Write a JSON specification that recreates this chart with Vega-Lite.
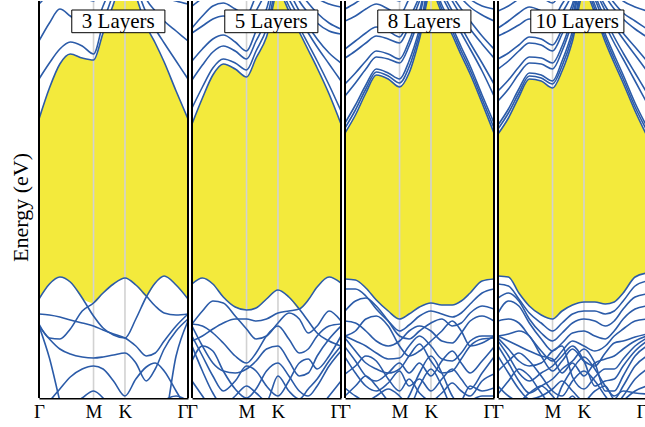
{
"$schema": "https://vega.github.io/schema/vega-lite/v6.json",
"padding": {"left": 9, "top": 0, "right": 0, "bottom": 0},
"background": "white",
"bounds": "flush",
"spacing": 4,
"data": {"values": [
{"p":1,"lab":"3 Layers"},{"p":2,"lab":"5 Layers"},{"p":3,"lab":"8 Layers"},{"p":4,"lab":"10 Layers"},
{"p":1,"b":1,"k":0,"e":-1.18},{"p":1,"b":1,"k":0.07,"e":-0.87},{"p":1,"b":1,"k":0.14,"e":-0.63},{"p":1,"b":1,"k":0.21,"e":-0.53},{"p":1,"b":1,"k":0.29,"e":-0.57},{"p":1,"b":1,"k":0.366,"e":-0.59},{"p":1,"b":1,"k":0.43,"e":-0.32},{"p":1,"b":1,"k":0.5,"e":-0.03},{"p":1,"b":1,"k":0.577,"e":0.3},{"p":1,"b":1,"k":0.65,"e":0.05},{"p":1,"b":1,"k":0.72,"e":-0.25},{"p":1,"b":1,"k":0.78,"e":-0.42},{"p":1,"b":1,"k":0.84,"e":-0.61},{"p":1,"b":1,"k":0.92,"e":-0.9},{"p":1,"b":1,"k":1,"e":-1.18},
{"p":1,"b":2,"k":0,"e":-0.78},{"p":1,"b":2,"k":0.07,"e":-0.62},{"p":1,"b":2,"k":0.14,"e":-0.48},{"p":1,"b":2,"k":0.21,"e":-0.41},{"p":1,"b":2,"k":0.29,"e":-0.45},{"p":1,"b":2,"k":0.366,"e":-0.53},{"p":1,"b":2,"k":0.43,"e":-0.22},{"p":1,"b":2,"k":0.5,"e":0.08},{"p":1,"b":2,"k":0.577,"e":0.4},{"p":1,"b":2,"k":0.65,"e":0.15},{"p":1,"b":2,"k":0.72,"e":-0.12},{"p":1,"b":2,"k":0.78,"e":-0.28},{"p":1,"b":2,"k":0.84,"e":-0.42},{"p":1,"b":2,"k":0.92,"e":-0.6},{"p":1,"b":2,"k":1,"e":-0.78},
{"p":1,"b":3,"k":0,"e":-0.4},{"p":1,"b":3,"k":0.07,"e":-0.22},{"p":1,"b":3,"k":0.14,"e":-0.08},{"p":1,"b":3,"k":0.21,"e":-0.15},{"p":1,"b":3,"k":0.29,"e":-0.24},{"p":1,"b":3,"k":0.366,"e":-0.28},{"p":1,"b":3,"k":0.43,"e":-0.05},{"p":1,"b":3,"k":0.5,"e":0.2},{"p":1,"b":3,"k":0.577,"e":0.5},{"p":1,"b":3,"k":0.65,"e":0.3},{"p":1,"b":3,"k":0.72,"e":0.02},{"p":1,"b":3,"k":0.78,"e":-0.1},{"p":1,"b":3,"k":0.84,"e":-0.2},{"p":1,"b":3,"k":0.92,"e":-0.3},{"p":1,"b":3,"k":1,"e":-0.4},
{"p":1,"b":4,"k":0,"e":-0.03},{"p":1,"b":4,"k":0.07,"e":0.08},{"p":1,"b":4,"k":0.14,"e":0.2},{"p":1,"b":4,"k":0.21,"e":0.15},{"p":1,"b":4,"k":0.29,"e":0.05},{"p":1,"b":4,"k":0.366,"e":0},{"p":1,"b":4,"k":0.43,"e":0.2},{"p":1,"b":4,"k":0.5,"e":0.4},{"p":1,"b":4,"k":0.577,"e":0.6},{"p":1,"b":4,"k":0.65,"e":0.45},{"p":1,"b":4,"k":0.72,"e":0.25},{"p":1,"b":4,"k":0.78,"e":0.12},{"p":1,"b":4,"k":0.84,"e":0.04},{"p":1,"b":4,"k":0.92,"e":0},{"p":1,"b":4,"k":1,"e":-0.03},
{"p":1,"b":101,"k":0,"e":-2.98},{"p":1,"b":101,"k":0.07,"e":-2.83},{"p":1,"b":101,"k":0.14,"e":-2.76},{"p":1,"b":101,"k":0.21,"e":-2.81},{"p":1,"b":101,"k":0.29,"e":-2.97},{"p":1,"b":101,"k":0.366,"e":-3.15},{"p":1,"b":101,"k":0.43,"e":-3.27},{"p":1,"b":101,"k":0.5,"e":-3.34},{"p":1,"b":101,"k":0.577,"e":-3.37},{"p":1,"b":101,"k":0.65,"e":-3.18},{"p":1,"b":101,"k":0.72,"e":-2.96},{"p":1,"b":101,"k":0.78,"e":-2.82},{"p":1,"b":101,"k":0.84,"e":-2.75},{"p":1,"b":101,"k":0.92,"e":-2.84},{"p":1,"b":101,"k":1,"e":-2.98},
{"p":1,"b":102,"k":0,"e":-3.23},{"p":1,"b":102,"k":0.07,"e":-3.37},{"p":1,"b":102,"k":0.14,"e":-3.38},{"p":1,"b":102,"k":0.21,"e":-3.28},{"p":1,"b":102,"k":0.29,"e":-3.1},{"p":1,"b":102,"k":0.366,"e":-3.02},{"p":1,"b":102,"k":0.43,"e":-2.92},{"p":1,"b":102,"k":0.5,"e":-2.83},{"p":1,"b":102,"k":0.577,"e":-2.77},{"p":1,"b":102,"k":0.65,"e":-2.84},{"p":1,"b":102,"k":0.72,"e":-2.95},{"p":1,"b":102,"k":0.78,"e":-3.05},{"p":1,"b":102,"k":0.84,"e":-3.12},{"p":1,"b":102,"k":0.92,"e":-3.14},{"p":1,"b":102,"k":1,"e":-3.13},
{"p":1,"b":103,"k":0,"e":-3.13},{"p":1,"b":103,"k":0.07,"e":-3.14},{"p":1,"b":103,"k":0.14,"e":-3.16},{"p":1,"b":103,"k":0.21,"e":-3.19},{"p":1,"b":103,"k":0.29,"e":-3.22},{"p":1,"b":103,"k":0.366,"e":-3.25},{"p":1,"b":103,"k":0.43,"e":-3.29},{"p":1,"b":103,"k":0.5,"e":-3.33},{"p":1,"b":103,"k":0.577,"e":-3.37},{"p":1,"b":103,"k":0.65,"e":-3.45},{"p":1,"b":103,"k":0.72,"e":-3.55},{"p":1,"b":103,"k":0.78,"e":-3.52},{"p":1,"b":103,"k":0.84,"e":-3.4},{"p":1,"b":103,"k":0.92,"e":-3.25},{"p":1,"b":103,"k":1,"e":-3.13},
{"p":1,"b":104,"k":0,"e":-3.25},{"p":1,"b":104,"k":0.07,"e":-3.38},{"p":1,"b":104,"k":0.14,"e":-3.48},{"p":1,"b":104,"k":0.21,"e":-3.53},{"p":1,"b":104,"k":0.29,"e":-3.56},{"p":1,"b":104,"k":0.366,"e":-3.57},{"p":1,"b":104,"k":0.43,"e":-3.56},{"p":1,"b":104,"k":0.5,"e":-3.54},{"p":1,"b":104,"k":0.577,"e":-3.52},{"p":1,"b":104,"k":0.65,"e":-3.62},{"p":1,"b":104,"k":0.72,"e":-3.8},{"p":1,"b":104,"k":0.78,"e":-3.68},{"p":1,"b":104,"k":0.84,"e":-3.48},{"p":1,"b":104,"k":0.92,"e":-3.3},{"p":1,"b":104,"k":1,"e":-3.18},
{"p":1,"b":105,"k":0,"e":-3.25},{"p":1,"b":105,"k":0.07,"e":-3.57},{"p":1,"b":105,"k":0.14,"e":-4},{"p":1,"b":105,"k":0.21,"e":-4.4},{"p":1,"b":105,"k":0.29,"e":-4.6},{"p":1,"b":105,"k":0.366,"e":-4.7},{"p":1,"b":105,"k":0.43,"e":-4.6},{"p":1,"b":105,"k":0.5,"e":-4.5},{"p":1,"b":105,"k":0.577,"e":-4.4},{"p":1,"b":105,"k":0.65,"e":-4.4},{"p":1,"b":105,"k":0.72,"e":-4.4},{"p":1,"b":105,"k":0.78,"e":-4.3},{"p":1,"b":105,"k":0.84,"e":-4.2},{"p":1,"b":105,"k":0.92,"e":-3.55},{"p":1,"b":105,"k":1,"e":-3.2},
{"p":1,"b":106,"k":0,"e":-4.1},{"p":1,"b":106,"k":0.07,"e":-4},{"p":1,"b":106,"k":0.14,"e":-3.88},{"p":1,"b":106,"k":0.21,"e":-3.76},{"p":1,"b":106,"k":0.29,"e":-3.68},{"p":1,"b":106,"k":0.366,"e":-3.65},{"p":1,"b":106,"k":0.43,"e":-3.68},{"p":1,"b":106,"k":0.5,"e":-3.8},{"p":1,"b":106,"k":0.577,"e":-3.95},{"p":1,"b":106,"k":0.65,"e":-3.78},{"p":1,"b":106,"k":0.72,"e":-3.66},{"p":1,"b":106,"k":0.78,"e":-3.62},{"p":1,"b":106,"k":0.84,"e":-3.7},{"p":1,"b":106,"k":0.92,"e":-3.9},{"p":1,"b":106,"k":1,"e":-4.1},
{"p":1,"b":107,"k":0,"e":-4.3},{"p":1,"b":107,"k":0.07,"e":-4.2},{"p":1,"b":107,"k":0.14,"e":-4.12},{"p":1,"b":107,"k":0.21,"e":-4.05},{"p":1,"b":107,"k":0.29,"e":-3.97},{"p":1,"b":107,"k":0.366,"e":-3.9},{"p":1,"b":107,"k":0.43,"e":-3.97},{"p":1,"b":107,"k":0.5,"e":-4.12},{"p":1,"b":107,"k":0.577,"e":-4.3},{"p":1,"b":107,"k":0.65,"e":-4.4},{"p":1,"b":107,"k":0.72,"e":-4.3},{"p":1,"b":107,"k":0.78,"e":-4.15},{"p":1,"b":107,"k":0.84,"e":-4},{"p":1,"b":107,"k":0.92,"e":-3.95},{"p":1,"b":107,"k":1,"e":-4},
{"p":2,"b":1,"k":0,"e":-1.23},{"p":2,"b":1,"k":0.07,"e":-0.97},{"p":2,"b":1,"k":0.14,"e":-0.74},{"p":2,"b":1,"k":0.21,"e":-0.63},{"p":2,"b":1,"k":0.29,"e":-0.68},{"p":2,"b":1,"k":0.366,"e":-0.76},{"p":2,"b":1,"k":0.43,"e":-0.57},{"p":2,"b":1,"k":0.5,"e":-0.36},{"p":2,"b":1,"k":0.577,"e":0.1},{"p":2,"b":1,"k":0.65,"e":-0.1},{"p":2,"b":1,"k":0.72,"e":-0.31},{"p":2,"b":1,"k":0.78,"e":-0.49},{"p":2,"b":1,"k":0.84,"e":-0.67},{"p":2,"b":1,"k":0.92,"e":-0.93},{"p":2,"b":1,"k":1,"e":-1.23},
{"p":2,"b":2,"k":0,"e":-1.07},{"p":2,"b":2,"k":0.07,"e":-0.86},{"p":2,"b":2,"k":0.14,"e":-0.67},{"p":2,"b":2,"k":0.21,"e":-0.58},{"p":2,"b":2,"k":0.29,"e":-0.62},{"p":2,"b":2,"k":0.366,"e":-0.69},{"p":2,"b":2,"k":0.43,"e":-0.5},{"p":2,"b":2,"k":0.5,"e":-0.28},{"p":2,"b":2,"k":0.577,"e":0.15},{"p":2,"b":2,"k":0.65,"e":-0.05},{"p":2,"b":2,"k":0.72,"e":-0.26},{"p":2,"b":2,"k":0.78,"e":-0.43},{"p":2,"b":2,"k":0.84,"e":-0.6},{"p":2,"b":2,"k":0.92,"e":-0.84},{"p":2,"b":2,"k":1,"e":-1.1},
{"p":2,"b":3,"k":0,"e":-0.79},{"p":2,"b":3,"k":0.07,"e":-0.64},{"p":2,"b":3,"k":0.14,"e":-0.51},{"p":2,"b":3,"k":0.21,"e":-0.45},{"p":2,"b":3,"k":0.29,"e":-0.5},{"p":2,"b":3,"k":0.366,"e":-0.58},{"p":2,"b":3,"k":0.43,"e":-0.4},{"p":2,"b":3,"k":0.5,"e":-0.18},{"p":2,"b":3,"k":0.577,"e":0.22},{"p":2,"b":3,"k":0.65,"e":0.02},{"p":2,"b":3,"k":0.72,"e":-0.17},{"p":2,"b":3,"k":0.78,"e":-0.32},{"p":2,"b":3,"k":0.84,"e":-0.46},{"p":2,"b":3,"k":0.92,"e":-0.63},{"p":2,"b":3,"k":1,"e":-0.8},
{"p":2,"b":4,"k":0,"e":-0.6},{"p":2,"b":4,"k":0.07,"e":-0.48},{"p":2,"b":4,"k":0.14,"e":-0.38},{"p":2,"b":4,"k":0.21,"e":-0.34},{"p":2,"b":4,"k":0.29,"e":-0.41},{"p":2,"b":4,"k":0.366,"e":-0.5},{"p":2,"b":4,"k":0.43,"e":-0.3},{"p":2,"b":4,"k":0.5,"e":-0.08},{"p":2,"b":4,"k":0.577,"e":0.3},{"p":2,"b":4,"k":0.65,"e":0.1},{"p":2,"b":4,"k":0.72,"e":-0.1},{"p":2,"b":4,"k":0.78,"e":-0.25},{"p":2,"b":4,"k":0.84,"e":-0.38},{"p":2,"b":4,"k":0.92,"e":-0.52},{"p":2,"b":4,"k":1,"e":-0.62},
{"p":2,"b":5,"k":0,"e":-0.32},{"p":2,"b":5,"k":0.07,"e":-0.25},{"p":2,"b":5,"k":0.14,"e":-0.18},{"p":2,"b":5,"k":0.21,"e":-0.15},{"p":2,"b":5,"k":0.29,"e":-0.22},{"p":2,"b":5,"k":0.366,"e":-0.3},{"p":2,"b":5,"k":0.43,"e":-0.1},{"p":2,"b":5,"k":0.5,"e":0.1},{"p":2,"b":5,"k":0.577,"e":0.4},{"p":2,"b":5,"k":0.65,"e":0.2},{"p":2,"b":5,"k":0.72,"e":0},{"p":2,"b":5,"k":0.78,"e":-0.12},{"p":2,"b":5,"k":0.84,"e":-0.22},{"p":2,"b":5,"k":0.92,"e":-0.3},{"p":2,"b":5,"k":1,"e":-0.33},
{"p":2,"b":6,"k":0,"e":-0.27},{"p":2,"b":6,"k":0.07,"e":-0.15},{"p":2,"b":6,"k":0.14,"e":-0.05},{"p":2,"b":6,"k":0.21,"e":-0.02},{"p":2,"b":6,"k":0.29,"e":-0.08},{"p":2,"b":6,"k":0.366,"e":-0.14},{"p":2,"b":6,"k":0.43,"e":0.05},{"p":2,"b":6,"k":0.5,"e":0.2},{"p":2,"b":6,"k":0.577,"e":0.5},{"p":2,"b":6,"k":0.65,"e":0.3},{"p":2,"b":6,"k":0.72,"e":0.1},{"p":2,"b":6,"k":0.78,"e":-0.02},{"p":2,"b":6,"k":0.84,"e":-0.12},{"p":2,"b":6,"k":0.92,"e":-0.22},{"p":2,"b":6,"k":1,"e":-0.28},
{"p":2,"b":7,"k":0,"e":-0.05},{"p":2,"b":7,"k":0.07,"e":0.03},{"p":2,"b":7,"k":0.14,"e":0.12},{"p":2,"b":7,"k":0.21,"e":0.15},{"p":2,"b":7,"k":0.29,"e":0.08},{"p":2,"b":7,"k":0.366,"e":0.03},{"p":2,"b":7,"k":0.43,"e":0.2},{"p":2,"b":7,"k":0.5,"e":0.4},{"p":2,"b":7,"k":0.577,"e":0.6},{"p":2,"b":7,"k":0.65,"e":0.45},{"p":2,"b":7,"k":0.72,"e":0.25},{"p":2,"b":7,"k":0.78,"e":0.12},{"p":2,"b":7,"k":0.84,"e":0.03},{"p":2,"b":7,"k":0.92,"e":-0.03},{"p":2,"b":7,"k":1,"e":-0.06},
{"p":2,"b":101,"k":0,"e":-2.83},{"p":2,"b":101,"k":0.07,"e":-2.77},{"p":2,"b":101,"k":0.14,"e":-2.83},{"p":2,"b":101,"k":0.21,"e":-2.96},{"p":2,"b":101,"k":0.29,"e":-3.06},{"p":2,"b":101,"k":0.366,"e":-3.09},{"p":2,"b":101,"k":0.43,"e":-3.07},{"p":2,"b":101,"k":0.5,"e":-2.98},{"p":2,"b":101,"k":0.577,"e":-2.89},{"p":2,"b":101,"k":0.65,"e":-2.96},{"p":2,"b":101,"k":0.72,"e":-3.08},{"p":2,"b":101,"k":0.78,"e":-3.2},{"p":2,"b":101,"k":0.84,"e":-3.32},{"p":2,"b":101,"k":0.92,"e":-3.4},{"p":2,"b":101,"k":1,"e":-3.45},
{"p":2,"b":102,"k":0,"e":-3.4},{"p":2,"b":102,"k":0.07,"e":-3.35},{"p":2,"b":102,"k":0.14,"e":-3.28},{"p":2,"b":102,"k":0.21,"e":-3.22},{"p":2,"b":102,"k":0.29,"e":-3.18},{"p":2,"b":102,"k":0.366,"e":-3.18},{"p":2,"b":102,"k":0.43,"e":-3.2},{"p":2,"b":102,"k":0.5,"e":-3.18},{"p":2,"b":102,"k":0.577,"e":-3.12},{"p":2,"b":102,"k":0.65,"e":-3.1},{"p":2,"b":102,"k":0.72,"e":-3.08},{"p":2,"b":102,"k":0.78,"e":-2.99},{"p":2,"b":102,"k":0.84,"e":-2.86},{"p":2,"b":102,"k":0.92,"e":-2.76},{"p":2,"b":102,"k":1,"e":-2.82},
{"p":2,"b":103,"k":0,"e":-3.23},{"p":2,"b":103,"k":0.07,"e":-3.1},{"p":2,"b":103,"k":0.14,"e":-3},{"p":2,"b":103,"k":0.21,"e":-3.02},{"p":2,"b":103,"k":0.29,"e":-3.15},{"p":2,"b":103,"k":0.366,"e":-3.28},{"p":2,"b":103,"k":0.43,"e":-3.38},{"p":2,"b":103,"k":0.5,"e":-3.35},{"p":2,"b":103,"k":0.577,"e":-3.22},{"p":2,"b":103,"k":0.65,"e":-3.12},{"p":2,"b":103,"k":0.72,"e":-3.18},{"p":2,"b":103,"k":0.78,"e":-3.32},{"p":2,"b":103,"k":0.84,"e":-3.25},{"p":2,"b":103,"k":0.92,"e":-3.1},{"p":2,"b":103,"k":1,"e":-3.2},
{"p":2,"b":104,"k":0,"e":-3.23},{"p":2,"b":104,"k":0.07,"e":-3.25},{"p":2,"b":104,"k":0.14,"e":-3.32},{"p":2,"b":104,"k":0.21,"e":-3.42},{"p":2,"b":104,"k":0.29,"e":-3.55},{"p":2,"b":104,"k":0.366,"e":-3.62},{"p":2,"b":104,"k":0.43,"e":-3.52},{"p":2,"b":104,"k":0.5,"e":-3.35},{"p":2,"b":104,"k":0.577,"e":-3.25},{"p":2,"b":104,"k":0.65,"e":-3.38},{"p":2,"b":104,"k":0.72,"e":-3.52},{"p":2,"b":104,"k":0.78,"e":-3.48},{"p":2,"b":104,"k":0.84,"e":-3.35},{"p":2,"b":104,"k":0.92,"e":-3.25},{"p":2,"b":104,"k":1,"e":-3.23},
{"p":2,"b":105,"k":0,"e":-3.25},{"p":2,"b":105,"k":0.07,"e":-3.45},{"p":2,"b":105,"k":0.14,"e":-3.62},{"p":2,"b":105,"k":0.21,"e":-3.7},{"p":2,"b":105,"k":0.29,"e":-3.72},{"p":2,"b":105,"k":0.366,"e":-3.68},{"p":2,"b":105,"k":0.43,"e":-3.6},{"p":2,"b":105,"k":0.5,"e":-3.48},{"p":2,"b":105,"k":0.577,"e":-3.45},{"p":2,"b":105,"k":0.65,"e":-3.6},{"p":2,"b":105,"k":0.72,"e":-3.75},{"p":2,"b":105,"k":0.78,"e":-3.72},{"p":2,"b":105,"k":0.84,"e":-3.55},{"p":2,"b":105,"k":0.92,"e":-3.38},{"p":2,"b":105,"k":1,"e":-3.25},
{"p":2,"b":106,"k":0,"e":-3.35},{"p":2,"b":106,"k":0.07,"e":-3.55},{"p":2,"b":106,"k":0.14,"e":-3.75},{"p":2,"b":106,"k":0.21,"e":-3.9},{"p":2,"b":106,"k":0.29,"e":-3.8},{"p":2,"b":106,"k":0.366,"e":-3.65},{"p":2,"b":106,"k":0.43,"e":-3.7},{"p":2,"b":106,"k":0.5,"e":-3.85},{"p":2,"b":106,"k":0.577,"e":-3.95},{"p":2,"b":106,"k":0.65,"e":-3.8},{"p":2,"b":106,"k":0.72,"e":-3.62},{"p":2,"b":106,"k":0.78,"e":-3.58},{"p":2,"b":106,"k":0.84,"e":-3.68},{"p":2,"b":106,"k":0.92,"e":-3.55},{"p":2,"b":106,"k":1,"e":-3.35},
{"p":2,"b":107,"k":0,"e":-3.45},{"p":2,"b":107,"k":0.07,"e":-3.7},{"p":2,"b":107,"k":0.14,"e":-3.92},{"p":2,"b":107,"k":0.21,"e":-4.05},{"p":2,"b":107,"k":0.29,"e":-3.95},{"p":2,"b":107,"k":0.366,"e":-3.85},{"p":2,"b":107,"k":0.43,"e":-3.92},{"p":2,"b":107,"k":0.5,"e":-4},{"p":2,"b":107,"k":0.577,"e":-3.75},{"p":2,"b":107,"k":0.65,"e":-3.9},{"p":2,"b":107,"k":0.72,"e":-3.98},{"p":2,"b":107,"k":0.78,"e":-3.88},{"p":2,"b":107,"k":0.84,"e":-3.78},{"p":2,"b":107,"k":0.92,"e":-3.6},{"p":2,"b":107,"k":1,"e":-3.45},
{"p":2,"b":108,"k":0,"e":-3.6},{"p":2,"b":108,"k":0.07,"e":-3.45},{"p":2,"b":108,"k":0.14,"e":-3.5},{"p":2,"b":108,"k":0.21,"e":-3.7},{"p":2,"b":108,"k":0.29,"e":-3.88},{"p":2,"b":108,"k":0.366,"e":-3.97},{"p":2,"b":108,"k":0.43,"e":-3.88},{"p":2,"b":108,"k":0.5,"e":-3.7},{"p":2,"b":108,"k":0.577,"e":-3.62},{"p":2,"b":108,"k":0.65,"e":-3.75},{"p":2,"b":108,"k":0.72,"e":-3.9},{"p":2,"b":108,"k":0.78,"e":-3.95},{"p":2,"b":108,"k":0.84,"e":-3.85},{"p":2,"b":108,"k":0.92,"e":-3.65},{"p":2,"b":108,"k":1,"e":-3.5},
{"p":2,"b":109,"k":0,"e":-3.8},{"p":2,"b":109,"k":0.07,"e":-3.95},{"p":2,"b":109,"k":0.14,"e":-4.1},{"p":2,"b":109,"k":0.21,"e":-4.2},{"p":2,"b":109,"k":0.29,"e":-4.1},{"p":2,"b":109,"k":0.366,"e":-4},{"p":2,"b":109,"k":0.43,"e":-4.1},{"p":2,"b":109,"k":0.5,"e":-4.2},{"p":2,"b":109,"k":0.577,"e":-4.1},{"p":2,"b":109,"k":0.65,"e":-4},{"p":2,"b":109,"k":0.72,"e":-4.12},{"p":2,"b":109,"k":0.78,"e":-4.2},{"p":2,"b":109,"k":0.84,"e":-4.1},{"p":2,"b":109,"k":0.92,"e":-3.95},{"p":2,"b":109,"k":1,"e":-3.8},
{"p":3,"b":1,"k":0,"e":-1.32},{"p":3,"b":1,"k":0.07,"e":-1.14},{"p":3,"b":1,"k":0.14,"e":-0.92},{"p":3,"b":1,"k":0.21,"e":-0.74},{"p":3,"b":1,"k":0.29,"e":-0.78},{"p":3,"b":1,"k":0.366,"e":-0.86},{"p":3,"b":1,"k":0.43,"e":-0.72},{"p":3,"b":1,"k":0.5,"e":-0.38},{"p":3,"b":1,"k":0.577,"e":0.1},{"p":3,"b":1,"k":0.65,"e":-0.12},{"p":3,"b":1,"k":0.72,"e":-0.34},{"p":3,"b":1,"k":0.78,"e":-0.54},{"p":3,"b":1,"k":0.84,"e":-0.73},{"p":3,"b":1,"k":0.92,"e":-1.02},{"p":3,"b":1,"k":1,"e":-1.32},
{"p":3,"b":2,"k":0,"e":-1.27},{"p":3,"b":2,"k":0.07,"e":-1.09},{"p":3,"b":2,"k":0.14,"e":-0.88},{"p":3,"b":2,"k":0.21,"e":-0.71},{"p":3,"b":2,"k":0.29,"e":-0.75},{"p":3,"b":2,"k":0.366,"e":-0.82},{"p":3,"b":2,"k":0.43,"e":-0.66},{"p":3,"b":2,"k":0.5,"e":-0.33},{"p":3,"b":2,"k":0.577,"e":0.15},{"p":3,"b":2,"k":0.65,"e":-0.08},{"p":3,"b":2,"k":0.72,"e":-0.3},{"p":3,"b":2,"k":0.78,"e":-0.5},{"p":3,"b":2,"k":0.84,"e":-0.69},{"p":3,"b":2,"k":0.92,"e":-0.98},{"p":3,"b":2,"k":1,"e":-1.27},
{"p":3,"b":3,"k":0,"e":-1.22},{"p":3,"b":3,"k":0.07,"e":-1.04},{"p":3,"b":3,"k":0.14,"e":-0.84},{"p":3,"b":3,"k":0.21,"e":-0.68},{"p":3,"b":3,"k":0.29,"e":-0.72},{"p":3,"b":3,"k":0.366,"e":-0.78},{"p":3,"b":3,"k":0.43,"e":-0.6},{"p":3,"b":3,"k":0.5,"e":-0.28},{"p":3,"b":3,"k":0.577,"e":0.2},{"p":3,"b":3,"k":0.65,"e":-0.04},{"p":3,"b":3,"k":0.72,"e":-0.26},{"p":3,"b":3,"k":0.78,"e":-0.46},{"p":3,"b":3,"k":0.84,"e":-0.65},{"p":3,"b":3,"k":0.92,"e":-0.94},{"p":3,"b":3,"k":1,"e":-1.22},
{"p":3,"b":4,"k":0,"e":-0.95},{"p":3,"b":4,"k":0.07,"e":-0.82},{"p":3,"b":4,"k":0.14,"e":-0.68},{"p":3,"b":4,"k":0.21,"e":-0.56},{"p":3,"b":4,"k":0.29,"e":-0.58},{"p":3,"b":4,"k":0.366,"e":-0.62},{"p":3,"b":4,"k":0.43,"e":-0.45},{"p":3,"b":4,"k":0.5,"e":-0.15},{"p":3,"b":4,"k":0.577,"e":0.28},{"p":3,"b":4,"k":0.65,"e":0.05},{"p":3,"b":4,"k":0.72,"e":-0.15},{"p":3,"b":4,"k":0.78,"e":-0.32},{"p":3,"b":4,"k":0.84,"e":-0.48},{"p":3,"b":4,"k":0.92,"e":-0.7},{"p":3,"b":4,"k":1,"e":-0.95},
{"p":3,"b":5,"k":0,"e":-0.83},{"p":3,"b":5,"k":0.07,"e":-0.72},{"p":3,"b":5,"k":0.14,"e":-0.6},{"p":3,"b":5,"k":0.21,"e":-0.5},{"p":3,"b":5,"k":0.29,"e":-0.53},{"p":3,"b":5,"k":0.366,"e":-0.58},{"p":3,"b":5,"k":0.43,"e":-0.4},{"p":3,"b":5,"k":0.5,"e":-0.1},{"p":3,"b":5,"k":0.577,"e":0.32},{"p":3,"b":5,"k":0.65,"e":0.1},{"p":3,"b":5,"k":0.72,"e":-0.1},{"p":3,"b":5,"k":0.78,"e":-0.26},{"p":3,"b":5,"k":0.84,"e":-0.42},{"p":3,"b":5,"k":0.92,"e":-0.62},{"p":3,"b":5,"k":1,"e":-0.83},
{"p":3,"b":6,"k":0,"e":-0.57},{"p":3,"b":6,"k":0.07,"e":-0.5},{"p":3,"b":6,"k":0.14,"e":-0.42},{"p":3,"b":6,"k":0.21,"e":-0.35},{"p":3,"b":6,"k":0.29,"e":-0.38},{"p":3,"b":6,"k":0.366,"e":-0.42},{"p":3,"b":6,"k":0.43,"e":-0.25},{"p":3,"b":6,"k":0.5,"e":0},{"p":3,"b":6,"k":0.577,"e":0.38},{"p":3,"b":6,"k":0.65,"e":0.18},{"p":3,"b":6,"k":0.72,"e":0},{"p":3,"b":6,"k":0.78,"e":-0.15},{"p":3,"b":6,"k":0.84,"e":-0.28},{"p":3,"b":6,"k":0.92,"e":-0.43},{"p":3,"b":6,"k":1,"e":-0.57},
{"p":3,"b":7,"k":0,"e":-0.48},{"p":3,"b":7,"k":0.07,"e":-0.4},{"p":3,"b":7,"k":0.14,"e":-0.32},{"p":3,"b":7,"k":0.21,"e":-0.26},{"p":3,"b":7,"k":0.29,"e":-0.3},{"p":3,"b":7,"k":0.366,"e":-0.36},{"p":3,"b":7,"k":0.43,"e":-0.18},{"p":3,"b":7,"k":0.5,"e":0.05},{"p":3,"b":7,"k":0.577,"e":0.42},{"p":3,"b":7,"k":0.65,"e":0.22},{"p":3,"b":7,"k":0.72,"e":0.05},{"p":3,"b":7,"k":0.78,"e":-0.08},{"p":3,"b":7,"k":0.84,"e":-0.2},{"p":3,"b":7,"k":0.92,"e":-0.35},{"p":3,"b":7,"k":1,"e":-0.48},
{"p":3,"b":8,"k":0,"e":-0.2},{"p":3,"b":8,"k":0.07,"e":-0.15},{"p":3,"b":8,"k":0.14,"e":-0.08},{"p":3,"b":8,"k":0.21,"e":-0.03},{"p":3,"b":8,"k":0.29,"e":-0.08},{"p":3,"b":8,"k":0.366,"e":-0.14},{"p":3,"b":8,"k":0.43,"e":0.02},{"p":3,"b":8,"k":0.5,"e":0.2},{"p":3,"b":8,"k":0.577,"e":0.5},{"p":3,"b":8,"k":0.65,"e":0.32},{"p":3,"b":8,"k":0.72,"e":0.15},{"p":3,"b":8,"k":0.78,"e":0.03},{"p":3,"b":8,"k":0.84,"e":-0.06},{"p":3,"b":8,"k":0.92,"e":-0.14},{"p":3,"b":8,"k":1,"e":-0.2},
{"p":3,"b":9,"k":0,"e":-0.08},{"p":3,"b":9,"k":0.07,"e":-0.02},{"p":3,"b":9,"k":0.14,"e":0.05},{"p":3,"b":9,"k":0.21,"e":0.1},{"p":3,"b":9,"k":0.29,"e":0.05},{"p":3,"b":9,"k":0.366,"e":0},{"p":3,"b":9,"k":0.43,"e":0.15},{"p":3,"b":9,"k":0.5,"e":0.3},{"p":3,"b":9,"k":0.577,"e":0.6},{"p":3,"b":9,"k":0.65,"e":0.42},{"p":3,"b":9,"k":0.72,"e":0.25},{"p":3,"b":9,"k":0.78,"e":0.12},{"p":3,"b":9,"k":0.84,"e":0.02},{"p":3,"b":9,"k":0.92,"e":-0.05},{"p":3,"b":9,"k":1,"e":-0.08},
{"p":3,"b":101,"k":0,"e":-2.78},{"p":3,"b":101,"k":0.07,"e":-2.79},{"p":3,"b":101,"k":0.14,"e":-2.87},{"p":3,"b":101,"k":0.21,"e":-2.99},{"p":3,"b":101,"k":0.29,"e":-3.1},{"p":3,"b":101,"k":0.366,"e":-3.18},{"p":3,"b":101,"k":0.43,"e":-3.13},{"p":3,"b":101,"k":0.5,"e":-3.06},{"p":3,"b":101,"k":0.577,"e":-3.02},{"p":3,"b":101,"k":0.65,"e":-3.04},{"p":3,"b":101,"k":0.72,"e":-3.04},{"p":3,"b":101,"k":0.78,"e":-3},{"p":3,"b":101,"k":0.84,"e":-2.92},{"p":3,"b":101,"k":0.92,"e":-2.8},{"p":3,"b":101,"k":1,"e":-2.78},
{"p":3,"b":102,"k":0,"e":-2.88},{"p":3,"b":102,"k":0.07,"e":-2.88},{"p":3,"b":102,"k":0.14,"e":-2.95},{"p":3,"b":102,"k":0.21,"e":-3.08},{"p":3,"b":102,"k":0.29,"e":-3.2},{"p":3,"b":102,"k":0.366,"e":-3.3},{"p":3,"b":102,"k":0.43,"e":-3.24},{"p":3,"b":102,"k":0.5,"e":-3.15},{"p":3,"b":102,"k":0.577,"e":-3.1},{"p":3,"b":102,"k":0.65,"e":-3.13},{"p":3,"b":102,"k":0.72,"e":-3.16},{"p":3,"b":102,"k":0.78,"e":-3.12},{"p":3,"b":102,"k":0.84,"e":-3.03},{"p":3,"b":102,"k":0.92,"e":-2.92},{"p":3,"b":102,"k":1,"e":-2.88},
{"p":3,"b":103,"k":0,"e":-3.1},{"p":3,"b":103,"k":0.07,"e":-3},{"p":3,"b":103,"k":0.14,"e":-2.97},{"p":3,"b":103,"k":0.21,"e":-3.05},{"p":3,"b":103,"k":0.29,"e":-3.2},{"p":3,"b":103,"k":0.366,"e":-3.35},{"p":3,"b":103,"k":0.43,"e":-3.38},{"p":3,"b":103,"k":0.5,"e":-3.3},{"p":3,"b":103,"k":0.577,"e":-3.22},{"p":3,"b":103,"k":0.65,"e":-3.18},{"p":3,"b":103,"k":0.72,"e":-3.25},{"p":3,"b":103,"k":0.78,"e":-3.22},{"p":3,"b":103,"k":0.84,"e":-3.12},{"p":3,"b":103,"k":0.92,"e":-3.05},{"p":3,"b":103,"k":1,"e":-3.08},
{"p":3,"b":104,"k":0,"e":-3.2},{"p":3,"b":104,"k":0.07,"e":-3.22},{"p":3,"b":104,"k":0.14,"e":-3.3},{"p":3,"b":104,"k":0.21,"e":-3.4},{"p":3,"b":104,"k":0.29,"e":-3.45},{"p":3,"b":104,"k":0.366,"e":-3.4},{"p":3,"b":104,"k":0.43,"e":-3.3},{"p":3,"b":104,"k":0.5,"e":-3.25},{"p":3,"b":104,"k":0.577,"e":-3.3},{"p":3,"b":104,"k":0.65,"e":-3.4},{"p":3,"b":104,"k":0.72,"e":-3.42},{"p":3,"b":104,"k":0.78,"e":-3.32},{"p":3,"b":104,"k":0.84,"e":-3.2},{"p":3,"b":104,"k":0.92,"e":-3.15},{"p":3,"b":104,"k":1,"e":-3.2},
{"p":3,"b":105,"k":0,"e":-3.35},{"p":3,"b":105,"k":0.07,"e":-3.3},{"p":3,"b":105,"k":0.14,"e":-3.18},{"p":3,"b":105,"k":0.21,"e":-3.15},{"p":3,"b":105,"k":0.29,"e":-3.25},{"p":3,"b":105,"k":0.366,"e":-3.45},{"p":3,"b":105,"k":0.43,"e":-3.55},{"p":3,"b":105,"k":0.5,"e":-3.5},{"p":3,"b":105,"k":0.577,"e":-3.4},{"p":3,"b":105,"k":0.65,"e":-3.3},{"p":3,"b":105,"k":0.72,"e":-3.2},{"p":3,"b":105,"k":0.78,"e":-3.3},{"p":3,"b":105,"k":0.84,"e":-3.45},{"p":3,"b":105,"k":0.92,"e":-3.42},{"p":3,"b":105,"k":1,"e":-3.35},
{"p":3,"b":106,"k":0,"e":-3.35},{"p":3,"b":106,"k":0.07,"e":-3.4},{"p":3,"b":106,"k":0.14,"e":-3.45},{"p":3,"b":106,"k":0.21,"e":-3.52},{"p":3,"b":106,"k":0.29,"e":-3.58},{"p":3,"b":106,"k":0.366,"e":-3.57},{"p":3,"b":106,"k":0.43,"e":-3.45},{"p":3,"b":106,"k":0.5,"e":-3.35},{"p":3,"b":106,"k":0.577,"e":-3.45},{"p":3,"b":106,"k":0.65,"e":-3.58},{"p":3,"b":106,"k":0.72,"e":-3.6},{"p":3,"b":106,"k":0.78,"e":-3.52},{"p":3,"b":106,"k":0.84,"e":-3.4},{"p":3,"b":106,"k":0.92,"e":-3.35},{"p":3,"b":106,"k":1,"e":-3.35},
{"p":3,"b":107,"k":0,"e":-3.37},{"p":3,"b":107,"k":0.07,"e":-3.5},{"p":3,"b":107,"k":0.14,"e":-3.62},{"p":3,"b":107,"k":0.21,"e":-3.68},{"p":3,"b":107,"k":0.29,"e":-3.72},{"p":3,"b":107,"k":0.366,"e":-3.68},{"p":3,"b":107,"k":0.43,"e":-3.55},{"p":3,"b":107,"k":0.5,"e":-3.43},{"p":3,"b":107,"k":0.577,"e":-3.6},{"p":3,"b":107,"k":0.65,"e":-3.72},{"p":3,"b":107,"k":0.72,"e":-3.7},{"p":3,"b":107,"k":0.78,"e":-3.58},{"p":3,"b":107,"k":0.84,"e":-3.45},{"p":3,"b":107,"k":0.92,"e":-3.38},{"p":3,"b":107,"k":1,"e":-3.37},
{"p":3,"b":108,"k":0,"e":-3.46},{"p":3,"b":108,"k":0.07,"e":-3.6},{"p":3,"b":108,"k":0.14,"e":-3.75},{"p":3,"b":108,"k":0.21,"e":-3.8},{"p":3,"b":108,"k":0.29,"e":-3.72},{"p":3,"b":108,"k":0.366,"e":-3.62},{"p":3,"b":108,"k":0.43,"e":-3.72},{"p":3,"b":108,"k":0.5,"e":-3.62},{"p":3,"b":108,"k":0.577,"e":-3.75},{"p":3,"b":108,"k":0.65,"e":-3.6},{"p":3,"b":108,"k":0.72,"e":-3.5},{"p":3,"b":108,"k":0.78,"e":-3.62},{"p":3,"b":108,"k":0.84,"e":-3.72},{"p":3,"b":108,"k":0.92,"e":-3.6},{"p":3,"b":108,"k":1,"e":-3.46},
{"p":3,"b":109,"k":0,"e":-3.56},{"p":3,"b":109,"k":0.07,"e":-3.72},{"p":3,"b":109,"k":0.14,"e":-3.85},{"p":3,"b":109,"k":0.21,"e":-3.9},{"p":3,"b":109,"k":0.29,"e":-3.82},{"p":3,"b":109,"k":0.366,"e":-3.7},{"p":3,"b":109,"k":0.43,"e":-3.85},{"p":3,"b":109,"k":0.5,"e":-3.78},{"p":3,"b":109,"k":0.577,"e":-3.9},{"p":3,"b":109,"k":0.65,"e":-3.78},{"p":3,"b":109,"k":0.72,"e":-3.68},{"p":3,"b":109,"k":0.78,"e":-3.78},{"p":3,"b":109,"k":0.84,"e":-3.88},{"p":3,"b":109,"k":0.92,"e":-3.72},{"p":3,"b":109,"k":1,"e":-3.56},
{"p":3,"b":110,"k":0,"e":-3.73},{"p":3,"b":110,"k":0.07,"e":-3.65},{"p":3,"b":110,"k":0.14,"e":-3.55},{"p":3,"b":110,"k":0.21,"e":-3.6},{"p":3,"b":110,"k":0.29,"e":-3.78},{"p":3,"b":110,"k":0.366,"e":-3.9},{"p":3,"b":110,"k":0.43,"e":-3.78},{"p":3,"b":110,"k":0.5,"e":-3.92},{"p":3,"b":110,"k":0.577,"e":-4},{"p":3,"b":110,"k":0.65,"e":-3.92},{"p":3,"b":110,"k":0.72,"e":-3.82},{"p":3,"b":110,"k":0.78,"e":-3.9},{"p":3,"b":110,"k":0.84,"e":-3.95},{"p":3,"b":110,"k":0.92,"e":-3.8},{"p":3,"b":110,"k":1,"e":-3.73},
{"p":3,"b":111,"k":0,"e":-3.87},{"p":3,"b":111,"k":0.07,"e":-3.95},{"p":3,"b":111,"k":0.14,"e":-4},{"p":3,"b":111,"k":0.21,"e":-3.95},{"p":3,"b":111,"k":0.29,"e":-3.88},{"p":3,"b":111,"k":0.366,"e":-3.95},{"p":3,"b":111,"k":0.43,"e":-4.05},{"p":3,"b":111,"k":0.5,"e":-3.85},{"p":3,"b":111,"k":0.577,"e":-3.68},{"p":3,"b":111,"k":0.65,"e":-3.85},{"p":3,"b":111,"k":0.72,"e":-4.05},{"p":3,"b":111,"k":0.78,"e":-4},{"p":3,"b":111,"k":0.84,"e":-3.85},{"p":3,"b":111,"k":0.92,"e":-3.9},{"p":3,"b":111,"k":1,"e":-3.87},
{"p":3,"b":112,"k":0,"e":-3.95},{"p":3,"b":112,"k":0.07,"e":-3.85},{"p":3,"b":112,"k":0.14,"e":-3.75},{"p":3,"b":112,"k":0.21,"e":-3.85},{"p":3,"b":112,"k":0.29,"e":-4},{"p":3,"b":112,"k":0.366,"e":-4.1},{"p":3,"b":112,"k":0.43,"e":-3.95},{"p":3,"b":112,"k":0.5,"e":-3.72},{"p":3,"b":112,"k":0.577,"e":-3.55},{"p":3,"b":112,"k":0.65,"e":-3.72},{"p":3,"b":112,"k":0.72,"e":-3.95},{"p":3,"b":112,"k":0.78,"e":-4.05},{"p":3,"b":112,"k":0.84,"e":-4},{"p":3,"b":112,"k":0.92,"e":-3.95},{"p":3,"b":112,"k":1,"e":-3.95},
{"p":4,"b":1,"k":0,"e":-1.33},{"p":4,"b":1,"k":0.07,"e":-1.17},{"p":4,"b":1,"k":0.14,"e":-0.96},{"p":4,"b":1,"k":0.21,"e":-0.78},{"p":4,"b":1,"k":0.29,"e":-0.8},{"p":4,"b":1,"k":0.366,"e":-0.87},{"p":4,"b":1,"k":0.43,"e":-0.7},{"p":4,"b":1,"k":0.5,"e":-0.4},{"p":4,"b":1,"k":0.577,"e":0.1},{"p":4,"b":1,"k":0.65,"e":-0.12},{"p":4,"b":1,"k":0.72,"e":-0.41},{"p":4,"b":1,"k":0.78,"e":-0.62},{"p":4,"b":1,"k":0.84,"e":-0.82},{"p":4,"b":1,"k":0.92,"e":-1.1},{"p":4,"b":1,"k":1,"e":-1.35},
{"p":4,"b":2,"k":0,"e":-1.28},{"p":4,"b":2,"k":0.07,"e":-1.12},{"p":4,"b":2,"k":0.14,"e":-0.92},{"p":4,"b":2,"k":0.21,"e":-0.75},{"p":4,"b":2,"k":0.29,"e":-0.77},{"p":4,"b":2,"k":0.366,"e":-0.83},{"p":4,"b":2,"k":0.43,"e":-0.65},{"p":4,"b":2,"k":0.5,"e":-0.35},{"p":4,"b":2,"k":0.577,"e":0.15},{"p":4,"b":2,"k":0.65,"e":-0.08},{"p":4,"b":2,"k":0.72,"e":-0.37},{"p":4,"b":2,"k":0.78,"e":-0.58},{"p":4,"b":2,"k":0.84,"e":-0.78},{"p":4,"b":2,"k":0.92,"e":-1.06},{"p":4,"b":2,"k":1,"e":-1.3},
{"p":4,"b":3,"k":0,"e":-1.24},{"p":4,"b":3,"k":0.07,"e":-1.08},{"p":4,"b":3,"k":0.14,"e":-0.88},{"p":4,"b":3,"k":0.21,"e":-0.72},{"p":4,"b":3,"k":0.29,"e":-0.74},{"p":4,"b":3,"k":0.366,"e":-0.8},{"p":4,"b":3,"k":0.43,"e":-0.6},{"p":4,"b":3,"k":0.5,"e":-0.3},{"p":4,"b":3,"k":0.577,"e":0.2},{"p":4,"b":3,"k":0.65,"e":-0.04},{"p":4,"b":3,"k":0.72,"e":-0.33},{"p":4,"b":3,"k":0.78,"e":-0.54},{"p":4,"b":3,"k":0.84,"e":-0.74},{"p":4,"b":3,"k":0.92,"e":-1.02},{"p":4,"b":3,"k":1,"e":-1.26},
{"p":4,"b":4,"k":0,"e":-1},{"p":4,"b":4,"k":0.07,"e":-0.88},{"p":4,"b":4,"k":0.14,"e":-0.73},{"p":4,"b":4,"k":0.21,"e":-0.62},{"p":4,"b":4,"k":0.29,"e":-0.63},{"p":4,"b":4,"k":0.366,"e":-0.68},{"p":4,"b":4,"k":0.43,"e":-0.5},{"p":4,"b":4,"k":0.5,"e":-0.2},{"p":4,"b":4,"k":0.577,"e":0.25},{"p":4,"b":4,"k":0.65,"e":0.02},{"p":4,"b":4,"k":0.72,"e":-0.24},{"p":4,"b":4,"k":0.78,"e":-0.42},{"p":4,"b":4,"k":0.84,"e":-0.58},{"p":4,"b":4,"k":0.92,"e":-0.8},{"p":4,"b":4,"k":1,"e":-1.02},
{"p":4,"b":5,"k":0,"e":-0.9},{"p":4,"b":5,"k":0.07,"e":-0.79},{"p":4,"b":5,"k":0.14,"e":-0.66},{"p":4,"b":5,"k":0.21,"e":-0.56},{"p":4,"b":5,"k":0.29,"e":-0.57},{"p":4,"b":5,"k":0.366,"e":-0.62},{"p":4,"b":5,"k":0.43,"e":-0.45},{"p":4,"b":5,"k":0.5,"e":-0.15},{"p":4,"b":5,"k":0.577,"e":0.3},{"p":4,"b":5,"k":0.65,"e":0.06},{"p":4,"b":5,"k":0.72,"e":-0.18},{"p":4,"b":5,"k":0.78,"e":-0.36},{"p":4,"b":5,"k":0.84,"e":-0.52},{"p":4,"b":5,"k":0.92,"e":-0.72},{"p":4,"b":5,"k":1,"e":-0.92},
{"p":4,"b":6,"k":0,"e":-0.68},{"p":4,"b":6,"k":0.07,"e":-0.6},{"p":4,"b":6,"k":0.14,"e":-0.5},{"p":4,"b":6,"k":0.21,"e":-0.42},{"p":4,"b":6,"k":0.29,"e":-0.44},{"p":4,"b":6,"k":0.366,"e":-0.5},{"p":4,"b":6,"k":0.43,"e":-0.33},{"p":4,"b":6,"k":0.5,"e":-0.08},{"p":4,"b":6,"k":0.577,"e":0.35},{"p":4,"b":6,"k":0.65,"e":0.12},{"p":4,"b":6,"k":0.72,"e":-0.1},{"p":4,"b":6,"k":0.78,"e":-0.25},{"p":4,"b":6,"k":0.84,"e":-0.38},{"p":4,"b":6,"k":0.92,"e":-0.54},{"p":4,"b":6,"k":1,"e":-0.7},
{"p":4,"b":7,"k":0,"e":-0.58},{"p":4,"b":7,"k":0.07,"e":-0.52},{"p":4,"b":7,"k":0.14,"e":-0.44},{"p":4,"b":7,"k":0.21,"e":-0.36},{"p":4,"b":7,"k":0.29,"e":-0.38},{"p":4,"b":7,"k":0.366,"e":-0.44},{"p":4,"b":7,"k":0.43,"e":-0.28},{"p":4,"b":7,"k":0.5,"e":-0.03},{"p":4,"b":7,"k":0.577,"e":0.38},{"p":4,"b":7,"k":0.65,"e":0.15},{"p":4,"b":7,"k":0.72,"e":-0.05},{"p":4,"b":7,"k":0.78,"e":-0.19},{"p":4,"b":7,"k":0.84,"e":-0.32},{"p":4,"b":7,"k":0.92,"e":-0.46},{"p":4,"b":7,"k":1,"e":-0.6},
{"p":4,"b":8,"k":0,"e":-0.35},{"p":4,"b":8,"k":0.07,"e":-0.3},{"p":4,"b":8,"k":0.14,"e":-0.24},{"p":4,"b":8,"k":0.21,"e":-0.18},{"p":4,"b":8,"k":0.29,"e":-0.21},{"p":4,"b":8,"k":0.366,"e":-0.28},{"p":4,"b":8,"k":0.43,"e":-0.12},{"p":4,"b":8,"k":0.5,"e":0.08},{"p":4,"b":8,"k":0.577,"e":0.45},{"p":4,"b":8,"k":0.65,"e":0.25},{"p":4,"b":8,"k":0.72,"e":0.05},{"p":4,"b":8,"k":0.78,"e":-0.08},{"p":4,"b":8,"k":0.84,"e":-0.18},{"p":4,"b":8,"k":0.92,"e":-0.28},{"p":4,"b":8,"k":1,"e":-0.36},
{"p":4,"b":9,"k":0,"e":-0.27},{"p":4,"b":9,"k":0.07,"e":-0.2},{"p":4,"b":9,"k":0.14,"e":-0.12},{"p":4,"b":9,"k":0.21,"e":-0.06},{"p":4,"b":9,"k":0.29,"e":-0.1},{"p":4,"b":9,"k":0.366,"e":-0.17},{"p":4,"b":9,"k":0.43,"e":-0.03},{"p":4,"b":9,"k":0.5,"e":0.15},{"p":4,"b":9,"k":0.577,"e":0.5},{"p":4,"b":9,"k":0.65,"e":0.3},{"p":4,"b":9,"k":0.72,"e":0.1},{"p":4,"b":9,"k":0.78,"e":-0.02},{"p":4,"b":9,"k":0.84,"e":-0.12},{"p":4,"b":9,"k":0.92,"e":-0.2},{"p":4,"b":9,"k":1,"e":-0.28},
{"p":4,"b":10,"k":0,"e":-0.1},{"p":4,"b":10,"k":0.07,"e":-0.05},{"p":4,"b":10,"k":0.14,"e":0.02},{"p":4,"b":10,"k":0.21,"e":0.08},{"p":4,"b":10,"k":0.29,"e":0.04},{"p":4,"b":10,"k":0.366,"e":-0.02},{"p":4,"b":10,"k":0.43,"e":0.12},{"p":4,"b":10,"k":0.5,"e":0.3},{"p":4,"b":10,"k":0.577,"e":0.6},{"p":4,"b":10,"k":0.65,"e":0.4},{"p":4,"b":10,"k":0.72,"e":0.2},{"p":4,"b":10,"k":0.78,"e":0.08},{"p":4,"b":10,"k":0.84,"e":0},{"p":4,"b":10,"k":0.92,"e":-0.06},{"p":4,"b":10,"k":1,"e":-0.1},
{"p":4,"b":101,"k":0,"e":-2.75},{"p":4,"b":101,"k":0.07,"e":-2.76},{"p":4,"b":101,"k":0.14,"e":-2.92},{"p":4,"b":101,"k":0.21,"e":-3.05},{"p":4,"b":101,"k":0.29,"e":-3.14},{"p":4,"b":101,"k":0.366,"e":-3.18},{"p":4,"b":101,"k":0.43,"e":-3.1},{"p":4,"b":101,"k":0.5,"e":-3.04},{"p":4,"b":101,"k":0.577,"e":-3.01},{"p":4,"b":101,"k":0.65,"e":-3.01},{"p":4,"b":101,"k":0.72,"e":-3.03},{"p":4,"b":101,"k":0.78,"e":-3.01},{"p":4,"b":101,"k":0.84,"e":-2.92},{"p":4,"b":101,"k":0.92,"e":-2.76},{"p":4,"b":101,"k":1,"e":-2.72},
{"p":4,"b":102,"k":0,"e":-2.83},{"p":4,"b":102,"k":0.07,"e":-2.85},{"p":4,"b":102,"k":0.14,"e":-2.98},{"p":4,"b":102,"k":0.21,"e":-3.12},{"p":4,"b":102,"k":0.29,"e":-3.22},{"p":4,"b":102,"k":0.366,"e":-3.3},{"p":4,"b":102,"k":0.43,"e":-3.22},{"p":4,"b":102,"k":0.5,"e":-3.13},{"p":4,"b":102,"k":0.577,"e":-3.1},{"p":4,"b":102,"k":0.65,"e":-3.1},{"p":4,"b":102,"k":0.72,"e":-3.13},{"p":4,"b":102,"k":0.78,"e":-3.1},{"p":4,"b":102,"k":0.84,"e":-3},{"p":4,"b":102,"k":0.92,"e":-2.85},{"p":4,"b":102,"k":1,"e":-2.8},
{"p":4,"b":103,"k":0,"e":-2.97},{"p":4,"b":103,"k":0.07,"e":-2.92},{"p":4,"b":103,"k":0.14,"e":-3},{"p":4,"b":103,"k":0.21,"e":-3.18},{"p":4,"b":103,"k":0.29,"e":-3.32},{"p":4,"b":103,"k":0.366,"e":-3.4},{"p":4,"b":103,"k":0.43,"e":-3.32},{"p":4,"b":103,"k":0.5,"e":-3.22},{"p":4,"b":103,"k":0.577,"e":-3.18},{"p":4,"b":103,"k":0.65,"e":-3.2},{"p":4,"b":103,"k":0.72,"e":-3.25},{"p":4,"b":103,"k":0.78,"e":-3.2},{"p":4,"b":103,"k":0.84,"e":-3.08},{"p":4,"b":103,"k":0.92,"e":-2.96},{"p":4,"b":103,"k":1,"e":-2.93},
{"p":4,"b":104,"k":0,"e":-3.12},{"p":4,"b":104,"k":0.07,"e":-3},{"p":4,"b":104,"k":0.14,"e":-3.05},{"p":4,"b":104,"k":0.21,"e":-3.22},{"p":4,"b":104,"k":0.29,"e":-3.38},{"p":4,"b":104,"k":0.366,"e":-3.5},{"p":4,"b":104,"k":0.43,"e":-3.42},{"p":4,"b":104,"k":0.5,"e":-3.32},{"p":4,"b":104,"k":0.577,"e":-3.3},{"p":4,"b":104,"k":0.65,"e":-3.35},{"p":4,"b":104,"k":0.72,"e":-3.38},{"p":4,"b":104,"k":0.78,"e":-3.3},{"p":4,"b":104,"k":0.84,"e":-3.18},{"p":4,"b":104,"k":0.92,"e":-3.08},{"p":4,"b":104,"k":1,"e":-3.05},
{"p":4,"b":105,"k":0,"e":-3.2},{"p":4,"b":105,"k":0.07,"e":-3.18},{"p":4,"b":105,"k":0.14,"e":-3.22},{"p":4,"b":105,"k":0.21,"e":-3.35},{"p":4,"b":105,"k":0.29,"e":-3.5},{"p":4,"b":105,"k":0.366,"e":-3.6},{"p":4,"b":105,"k":0.43,"e":-3.5},{"p":4,"b":105,"k":0.5,"e":-3.4},{"p":4,"b":105,"k":0.577,"e":-3.45},{"p":4,"b":105,"k":0.65,"e":-3.5},{"p":4,"b":105,"k":0.72,"e":-3.45},{"p":4,"b":105,"k":0.78,"e":-3.35},{"p":4,"b":105,"k":0.84,"e":-3.28},{"p":4,"b":105,"k":0.92,"e":-3.2},{"p":4,"b":105,"k":1,"e":-3.18},
{"p":4,"b":106,"k":0,"e":-3.35},{"p":4,"b":106,"k":0.07,"e":-3.33},{"p":4,"b":106,"k":0.14,"e":-3.3},{"p":4,"b":106,"k":0.21,"e":-3.35},{"p":4,"b":106,"k":0.29,"e":-3.55},{"p":4,"b":106,"k":0.366,"e":-3.7},{"p":4,"b":106,"k":0.43,"e":-3.6},{"p":4,"b":106,"k":0.5,"e":-3.48},{"p":4,"b":106,"k":0.577,"e":-3.6},{"p":4,"b":106,"k":0.65,"e":-3.65},{"p":4,"b":106,"k":0.72,"e":-3.52},{"p":4,"b":106,"k":0.78,"e":-3.42},{"p":4,"b":106,"k":0.84,"e":-3.4},{"p":4,"b":106,"k":0.92,"e":-3.36},{"p":4,"b":106,"k":1,"e":-3.33},
{"p":4,"b":107,"k":0,"e":-3.35},{"p":4,"b":107,"k":0.07,"e":-3.4},{"p":4,"b":107,"k":0.14,"e":-3.45},{"p":4,"b":107,"k":0.21,"e":-3.5},{"p":4,"b":107,"k":0.29,"e":-3.55},{"p":4,"b":107,"k":0.366,"e":-3.58},{"p":4,"b":107,"k":0.43,"e":-3.72},{"p":4,"b":107,"k":0.5,"e":-3.62},{"p":4,"b":107,"k":0.577,"e":-3.75},{"p":4,"b":107,"k":0.65,"e":-3.62},{"p":4,"b":107,"k":0.72,"e":-3.58},{"p":4,"b":107,"k":0.78,"e":-3.55},{"p":4,"b":107,"k":0.84,"e":-3.48},{"p":4,"b":107,"k":0.92,"e":-3.4},{"p":4,"b":107,"k":1,"e":-3.35},
{"p":4,"b":108,"k":0,"e":-3.37},{"p":4,"b":108,"k":0.07,"e":-3.48},{"p":4,"b":108,"k":0.14,"e":-3.6},{"p":4,"b":108,"k":0.21,"e":-3.65},{"p":4,"b":108,"k":0.29,"e":-3.62},{"p":4,"b":108,"k":0.366,"e":-3.5},{"p":4,"b":108,"k":0.43,"e":-3.45},{"p":4,"b":108,"k":0.5,"e":-3.76},{"p":4,"b":108,"k":0.577,"e":-3.88},{"p":4,"b":108,"k":0.65,"e":-3.76},{"p":4,"b":108,"k":0.72,"e":-3.68},{"p":4,"b":108,"k":0.78,"e":-3.68},{"p":4,"b":108,"k":0.84,"e":-3.58},{"p":4,"b":108,"k":0.92,"e":-3.45},{"p":4,"b":108,"k":1,"e":-3.37},
{"p":4,"b":109,"k":0,"e":-3.4},{"p":4,"b":109,"k":0.07,"e":-3.55},{"p":4,"b":109,"k":0.14,"e":-3.72},{"p":4,"b":109,"k":0.21,"e":-3.8},{"p":4,"b":109,"k":0.29,"e":-3.72},{"p":4,"b":109,"k":0.366,"e":-3.65},{"p":4,"b":109,"k":0.43,"e":-3.55},{"p":4,"b":109,"k":0.5,"e":-3.45},{"p":4,"b":109,"k":0.577,"e":-3.6},{"p":4,"b":109,"k":0.65,"e":-3.85},{"p":4,"b":109,"k":0.72,"e":-3.8},{"p":4,"b":109,"k":0.78,"e":-3.78},{"p":4,"b":109,"k":0.84,"e":-3.65},{"p":4,"b":109,"k":0.92,"e":-3.5},{"p":4,"b":109,"k":1,"e":-3.4},
{"p":4,"b":110,"k":0,"e":-3.45},{"p":4,"b":110,"k":0.07,"e":-3.62},{"p":4,"b":110,"k":0.14,"e":-3.8},{"p":4,"b":110,"k":0.21,"e":-3.92},{"p":4,"b":110,"k":0.29,"e":-3.85},{"p":4,"b":110,"k":0.366,"e":-3.78},{"p":4,"b":110,"k":0.43,"e":-3.68},{"p":4,"b":110,"k":0.5,"e":-3.6},{"p":4,"b":110,"k":0.577,"e":-3.48},{"p":4,"b":110,"k":0.65,"e":-3.62},{"p":4,"b":110,"k":0.72,"e":-3.9},{"p":4,"b":110,"k":0.78,"e":-3.9},{"p":4,"b":110,"k":0.84,"e":-3.75},{"p":4,"b":110,"k":0.92,"e":-3.55},{"p":4,"b":110,"k":1,"e":-3.45},
{"p":4,"b":111,"k":0,"e":-3.55},{"p":4,"b":111,"k":0.07,"e":-3.72},{"p":4,"b":111,"k":0.14,"e":-3.88},{"p":4,"b":111,"k":0.21,"e":-3.98},{"p":4,"b":111,"k":0.29,"e":-3.95},{"p":4,"b":111,"k":0.366,"e":-3.88},{"p":4,"b":111,"k":0.43,"e":-3.8},{"p":4,"b":111,"k":0.5,"e":-3.9},{"p":4,"b":111,"k":0.577,"e":-4},{"p":4,"b":111,"k":0.65,"e":-3.9},{"p":4,"b":111,"k":0.72,"e":-3.85},{"p":4,"b":111,"k":0.78,"e":-3.98},{"p":4,"b":111,"k":0.84,"e":-3.85},{"p":4,"b":111,"k":0.92,"e":-3.65},{"p":4,"b":111,"k":1,"e":-3.55},
{"p":4,"b":112,"k":0,"e":-3.7},{"p":4,"b":112,"k":0.07,"e":-3.6},{"p":4,"b":112,"k":0.14,"e":-3.52},{"p":4,"b":112,"k":0.21,"e":-3.6},{"p":4,"b":112,"k":0.29,"e":-3.75},{"p":4,"b":112,"k":0.366,"e":-3.9},{"p":4,"b":112,"k":0.43,"e":-3.95},{"p":4,"b":112,"k":0.5,"e":-3.8},{"p":4,"b":112,"k":0.577,"e":-3.7},{"p":4,"b":112,"k":0.65,"e":-3.8},{"p":4,"b":112,"k":0.72,"e":-3.95},{"p":4,"b":112,"k":0.78,"e":-4.05},{"p":4,"b":112,"k":0.84,"e":-3.95},{"p":4,"b":112,"k":0.92,"e":-3.78},{"p":4,"b":112,"k":1,"e":-3.68},
{"p":4,"b":113,"k":0,"e":-3.85},{"p":4,"b":113,"k":0.07,"e":-3.95},{"p":4,"b":113,"k":0.14,"e":-4},{"p":4,"b":113,"k":0.21,"e":-3.92},{"p":4,"b":113,"k":0.29,"e":-3.85},{"p":4,"b":113,"k":0.366,"e":-3.95},{"p":4,"b":113,"k":0.43,"e":-4.05},{"p":4,"b":113,"k":0.5,"e":-3.95},{"p":4,"b":113,"k":0.577,"e":-4.1},{"p":4,"b":113,"k":0.65,"e":-3.98},{"p":4,"b":113,"k":0.72,"e":-4},{"p":4,"b":113,"k":0.78,"e":-4.1},{"p":4,"b":113,"k":0.84,"e":-4},{"p":4,"b":113,"k":0.92,"e":-3.9},{"p":4,"b":113,"k":1,"e":-3.85},
{"p":4,"b":114,"k":0,"e":-3.93},{"p":4,"b":114,"k":0.07,"e":-3.8},{"p":4,"b":114,"k":0.14,"e":-3.68},{"p":4,"b":114,"k":0.21,"e":-3.75},{"p":4,"b":114,"k":0.29,"e":-3.92},{"p":4,"b":114,"k":0.366,"e":-4.05},{"p":4,"b":114,"k":0.43,"e":-3.85},{"p":4,"b":114,"k":0.5,"e":-3.68},{"p":4,"b":114,"k":0.577,"e":-3.56},{"p":4,"b":114,"k":0.65,"e":-3.68},{"p":4,"b":114,"k":0.72,"e":-3.85},{"p":4,"b":114,"k":0.78,"e":-3.95},{"p":4,"b":114,"k":0.84,"e":-3.9},{"p":4,"b":114,"k":0.92,"e":-3.92},{"p":4,"b":114,"k":1,"e":-3.93}
]},
"facet": {"column": {"field": "p", "type": "ordinal", "title": null, "header": {"labels": false, "title": null, "labelPadding": 0, "titlePadding": 0}}},
"spec": {
  "width": 149,
  "height": 397,
  "layer": [
    {
      "transform": [{"filter": "datum.b > 100"}, {"aggregate": [{"op": "max", "field": "e", "as": "mx"}], "groupby": ["p", "k"]}],
      "mark": {"type": "area", "color": "white", "interpolate": "monotone", "orient": "vertical", "clip": true},
      "encoding": {
        "x": {"field": "k", "type": "quantitative", "title": null, "scale": {"domain": [0, 1], "nice": false, "zero": false},
          "axis": {"values": [0, 0.366, 0.577, 1], "labelExpr": "datum.value < 0.2 ? 'Γ' : datum.value < 0.45 ? 'M' : datum.value < 0.8 ? 'K' : 'Γ'",
            "labelAlign": {"condition": {"test": "datum.value > 0.9", "value": "right"}, "value": "center"},
            "ticks": false, "grid": false, "domainColor": "black", "domainWidth": 2, "labelFont": "Liberation Serif", "labelFontSize": 19, "labelColor": "black", "labelPadding": 4, "labelOverlap": false, "labelBound": false, "labelFlush": false}},
        "y": {"field": "mx", "type": "quantitative", "title": "Energy (eV)", "scale": {"domain": [-3.97, 0], "nice": false, "zero": false},
          "axis": {"labels": false, "ticks": false, "domain": false, "grid": false, "titleFont": "Liberation Serif", "titleFontSize": 22, "titleFontWeight": "normal", "titleColor": "black", "titlePadding": 7, "titleY": 206}},
        "y2": {"datum": -5}
      }
    },
    {
      "transform": [{"filter": "datum.b < 100"}, {"aggregate": [{"op": "min", "field": "e", "as": "mn"}], "groupby": ["p", "k"]}],
      "mark": {"type": "area", "color": "white", "interpolate": "monotone", "orient": "vertical", "clip": true},
      "encoding": {
        "x": {"field": "k", "type": "quantitative", "title": null},
        "y": {"field": "mn", "type": "quantitative", "title": "Energy (eV)"},
        "y2": {"datum": 1}
      }
    },
    {
      "transform": [{"filter": "isValid(datum.lab)"}],
      "mark": {"type": "rule", "color": "#d2d2d2", "strokeWidth": 1.6},
      "encoding": {"x": {"datum": 0.366, "type": "quantitative"}}
    },
    {
      "transform": [{"filter": "isValid(datum.lab)"}],
      "mark": {"type": "rule", "color": "#d2d2d2", "strokeWidth": 1.6},
      "encoding": {"x": {"datum": 0.577, "type": "quantitative"}}
    },
    {
      "transform": [{"filter": "isValid(datum.e)"}],
      "mark": {"type": "line", "color": "#2b5ba8", "strokeWidth": 1.6, "interpolate": "monotone", "clip": true},
      "encoding": {
        "x": {"field": "k", "type": "quantitative", "title": null},
        "y": {"field": "e", "type": "quantitative", "title": "Energy (eV)"},
        "detail": {"field": "b", "type": "nominal"}
      }
    },
    {
      "transform": [{"filter": "isValid(datum.lab)"}],
      "mark": {"type": "rule", "color": "black", "strokeWidth": 2},
      "encoding": {"x": {"datum": 0, "type": "quantitative"}}
    },
    {
      "transform": [{"filter": "isValid(datum.lab)"}],
      "mark": {"type": "rule", "color": "black", "strokeWidth": 2},
      "encoding": {"x": {"datum": 1, "type": "quantitative"}}
    },
    {
      "transform": [{"filter": "isValid(datum.lab)"}],
      "mark": {"type": "rect", "fill": "white", "stroke": "black", "strokeWidth": 1},
      "encoding": {
        "x": {"datum": 0.22, "type": "quantitative"}, "x2": {"datum": 0.845},
        "y": {"datum": -0.09, "type": "quantitative"}, "y2": {"datum": -0.317}
      }
    },
    {
      "transform": [{"filter": "isValid(datum.lab)"}],
      "mark": {"type": "text", "font": "Liberation Serif", "fontSize": 21, "color": "black", "align": "center", "baseline": "middle"},
      "encoding": {
        "x": {"datum": 0.532, "type": "quantitative"},
        "y": {"datum": -0.21, "type": "quantitative"},
        "text": {"field": "lab"}
      }
    }
  ]
},
"config": {
  "view": {"fill": "#f3ea3c", "stroke": null},
  "axis": {"grid": false}
}
}
